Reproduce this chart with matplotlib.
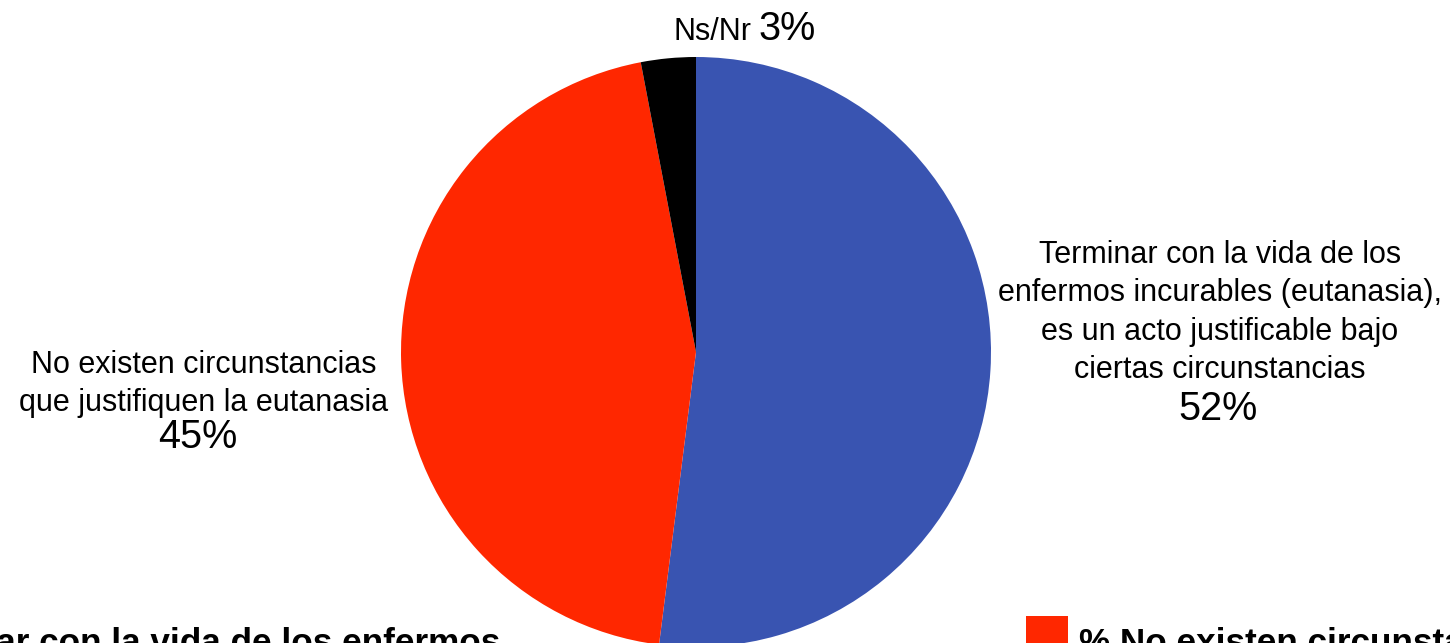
import textwrap
import matplotlib
matplotlib.use("Agg")
import matplotlib.pyplot as plt
from matplotlib.patches import Rectangle

plt.rcParams["font.family"] = ["Liberation Sans", "DejaVu Sans"]

# ── data ────────────────────────────────────────────────────────────────
categories = [
    "Terminar con la vida de los enfermos incurables (eutanasia), "
    "es un acto justificable bajo ciertas circunstancias",
    "No existen circunstancias que justifiquen la eutanasia",
    "Ns/Nr",
]
values = [52, 45, 3]
colors = ["#3954B1", "#FF2700", "#000000"]

# ── layout (pixel units, y measured from the top) ──────────────────────
W, H = 1450, 643
CX, CY, R = 696, 352, 295


def py(y):
    """pixel row (from top) -> data y (from bottom)"""
    return H - y


fig = plt.figure(figsize=(W / 100, H / 100), dpi=100)
ax = fig.add_axes([0, 0, 1, 1])
ax.pie(values, colors=colors, startangle=90, counterclock=False,
       center=(CX, py(CY)), radius=R, wedgeprops=dict(linewidth=0))
ax.set_xlim(0, W)
ax.set_ylim(0, H)
ax.set_aspect("equal")
ax.axis("off")

# slice labels: name block + percentage below it
LABEL_FS, PCT_FS = 22, 28.5
blue_lines = textwrap.fill(categories[0], width=32)
red_lines = textwrap.fill(categories[1], width=28)

ax.text(1220, py(240), blue_lines, ha="center", va="top",
        fontsize=LABEL_FS, linespacing=1.36)
ax.text(1218, py(420), f"{values[0]}%", ha="center", va="baseline",
        fontsize=PCT_FS)

ax.text(204, py(350), red_lines, ha="center", va="top",
        fontsize=LABEL_FS, linespacing=1.36)
ax.text(198, py(448), f"{values[1]}%", ha="center", va="baseline",
        fontsize=PCT_FS)

ax.text(752, py(40), categories[2], ha="right", va="baseline",
        fontsize=LABEL_FS)
ax.text(758, py(40), f"{values[2]}%", ha="left", va="baseline",
        fontsize=PCT_FS)

# legend along the bottom edge (runs off the canvas like the original)
LEG_FS = 25.3
SQ = 42
leg_x = [-212, 1026, 1900]
for x, name, c in zip(leg_x, categories, colors):
    ax.add_patch(Rectangle((x, py(616 + SQ)), SQ, SQ, facecolor=c,
                           edgecolor="none", clip_on=False))
    ax.text(x + SQ + 11, py(627), textwrap.fill("% " + name, width=40),
            ha="left", va="top", fontsize=LEG_FS, fontweight="bold")

fig.savefig("out.png", dpi=100, facecolor="white")
